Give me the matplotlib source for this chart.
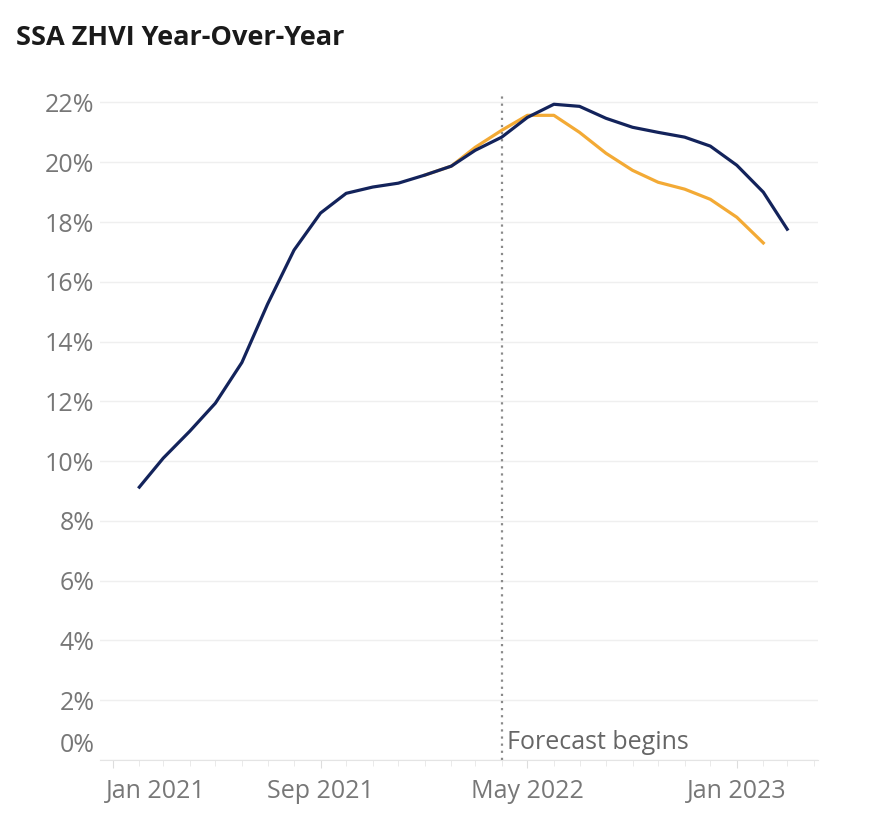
import pandas as pd
import numpy as np
import matplotlib
matplotlib.use('Agg')
import matplotlib.pyplot as plt
import matplotlib.dates as mdates
from matplotlib.transforms import ScaledTranslation

plt.rcParams['font.family'] = ['Open Sans', 'DejaVu Sans']

# Actual / latest forecast, Feb 2021 - Mar 2023
months = pd.date_range('2021-02-01', '2023-03-01', freq='MS')
zhvi_yoy = [9.13, 10.1, 11.0, 11.94, 13.3, 15.25, 17.06, 18.3, 18.96, 19.17,
            19.3, 19.57, 19.87, 20.4, 20.84, 21.5, 21.94, 21.87, 21.47, 21.17,
            21.0, 20.84, 20.54, 19.9, 19.0, 17.76]

# Previous forecast, Jan 2022 - Feb 2023
prev_months = pd.date_range('2022-01-01', '2023-02-01', freq='MS')
prev_yoy = [19.57, 19.87, 20.5, 21.07, 21.57, 21.57, 21.0, 20.3, 19.73,
            19.33, 19.1, 18.76, 18.16, 17.3]

forecast_start = pd.Timestamp('2022-04-01')
y_ticks = list(range(0, 23, 2))
x_ticks = pd.to_datetime(['2021-01-01', '2021-09-01', '2022-05-01', '2023-01-01'])

navy = '#13235b'
orange = '#f3aa35'
grey_text = '#777777'
fs = 18

fig = plt.figure(figsize=(8.82, 8.36), dpi=100)
ax = fig.add_axes([100/882, 1 - 760/836, 718/882, 665/836])

ax.plot(prev_months, prev_yoy, color=orange, lw=2.3, solid_joinstyle='round', zorder=3)
ax.plot(months, zhvi_yoy, color=navy, lw=2.3, solid_joinstyle='round', zorder=4)

# forecast marker
ax.axvline(forecast_start, color='#8a8a8a', ls=(0, (1, 2.2)), lw=1.6, zorder=2)
ax.text(forecast_start + pd.Timedelta(days=6), 0.6, 'Forecast begins',
        fontsize=fs, color='#666666', va='center', ha='left')

ax.set_xlim(pd.Timestamp('2020-12-17'), pd.Timestamp('2023-04-06'))
ax.set_ylim(0, 22.25)

ax.set_yticks(y_ticks)
ax.set_yticklabels(['{}%'.format(v) for v in y_ticks])
ax.grid(axis='y', color='#efefef', lw=1)
ax.set_axisbelow(True)

ax.set_xticks(x_ticks)
ax.set_xticklabels([d.strftime('%b %Y') for d in x_ticks])
ax.xaxis.set_minor_locator(mdates.MonthLocator())

for s in ['top', 'right', 'left']:
    ax.spines[s].set_visible(False)
ax.spines['bottom'].set_color('#e4e4e4')

ax.tick_params(axis='y', length=0, pad=4, labelsize=fs, labelcolor=grey_text)
ax.tick_params(axis='x', which='major', length=6, color='#dddddd', pad=8,
               labelsize=fs, labelcolor=grey_text)
ax.tick_params(axis='x', which='minor', length=4, color='#e6e6e6')

# shift first x label right and 0% label up, like the original
lbl = ax.get_xticklabels()[0]
lbl.set_horizontalalignment('left')
lbl.set_transform(lbl.get_transform() + ScaledTranslation(-7/100, 0, fig.dpi_scale_trans))
zero = ax.get_yticklabels()[0]
zero.set_transform(zero.get_transform() + ScaledTranslation(0, 17/100, fig.dpi_scale_trans))

fig.text(16/882, 1 - 38/836, 'SSA ZHVI Year-Over-Year', fontsize=19.5,
         fontweight='bold', color='#1a1a1a', va='center', ha='left')

fig.savefig('out.png', dpi=100, facecolor='white')
